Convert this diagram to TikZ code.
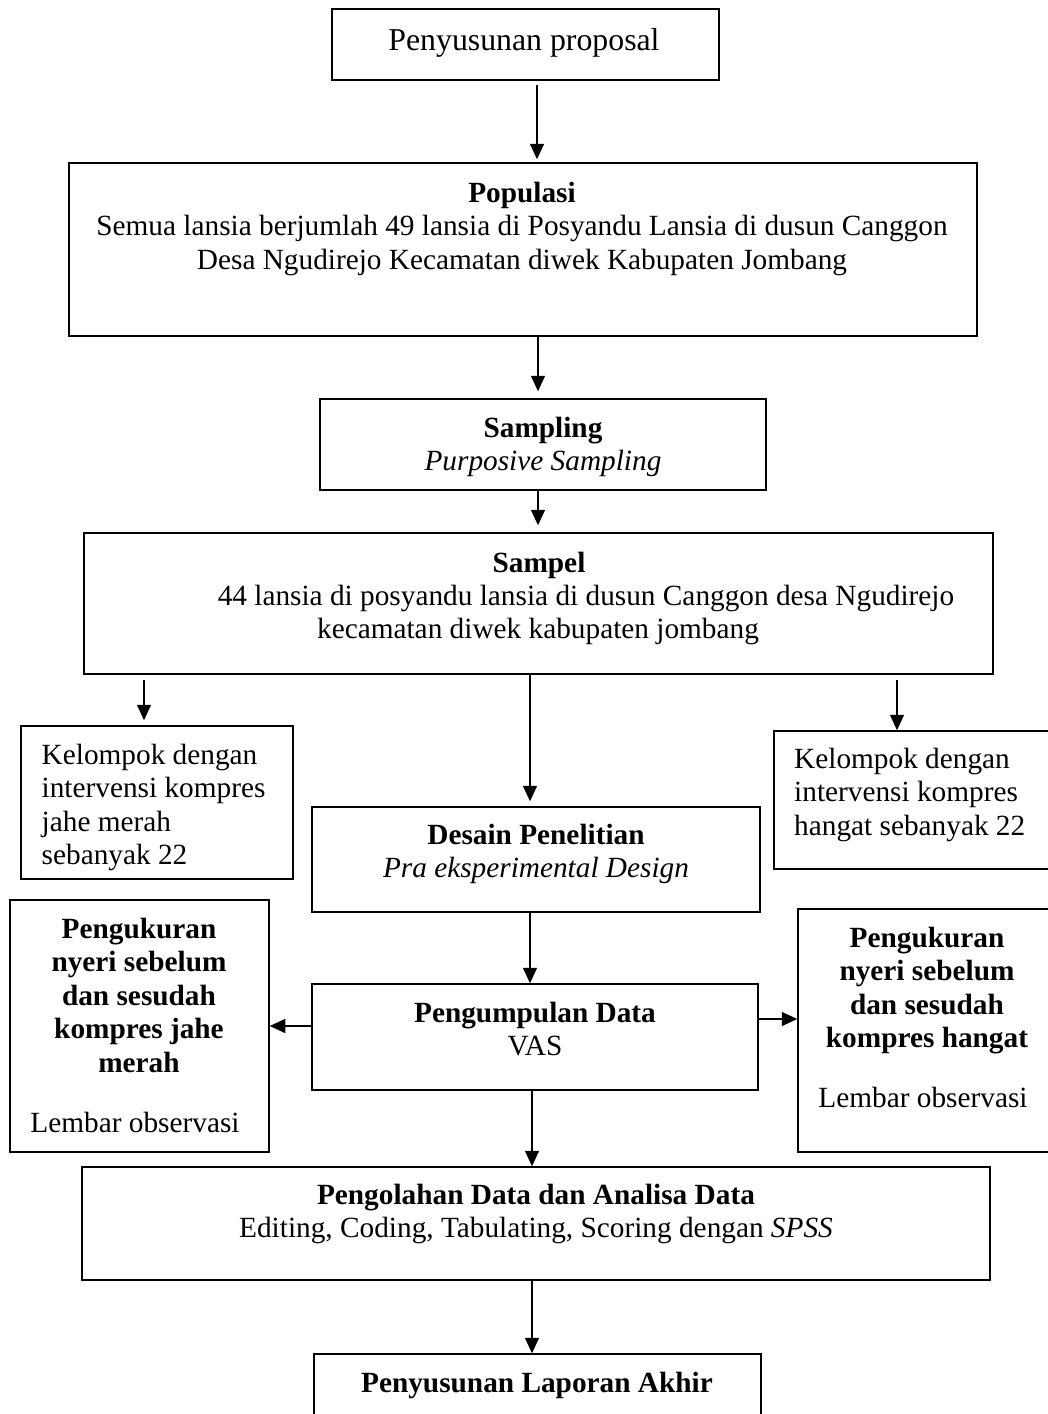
\documentclass[tikz,border=0pt]{standalone}
\usepackage{fontspec}
\setmainfont{Liberation Serif}
\usetikzlibrary{arrows.meta}
\begin{document}
\begin{tikzpicture}[x=1pt,y=-1pt,
  box/.style={draw,line width=1.5pt,inner sep=0pt,rectangle},
  txt/.style={inner sep=0pt,align=center,font=\fontsize{29.3}{33.5}\selectfont},
  arr/.style={line width=1.5pt,-{Triangle[length=15.5pt,width=14pt]}},
  ln/.style={line width=1.5pt}]
\useasboundingbox (0,0) rectangle (1048,1414);
\clip (0,0) rectangle (1048,1414);
% boxes
\node[box,minimum width=387pt,minimum height=71pt] (b1) at (525.3,44.5) {};
\node[box,minimum width=908pt,minimum height=173pt] (pop) at (523,249.5) {};
\node[box,minimum width=446pt,minimum height=91pt] (samp) at (543,444.5) {};
\node[box,minimum width=909pt,minimum height=141pt] (sampel) at (538.5,603.5) {};
\node[box,minimum width=272pt,minimum height=153pt] (kiri) at (157,802.5) {};
\node[box,minimum width=286pt,minimum height=138pt] (kanan) at (917,800) {};
\node[box,minimum width=448pt,minimum height=105pt] (desain) at (536,859.5) {};
\node[box,minimum width=259pt,minimum height=252pt] (ukurL) at (139.5,1026) {};
\node[box,minimum width=262pt,minimum height=243pt] (ukurR) at (929,1030.5) {};
\node[box,minimum width=446pt,minimum height=106pt] (kumpul) at (535,1037) {};
\node[box,minimum width=908pt,minimum height=113pt] (olah) at (536,1223.5) {};
\node[box,minimum width=447pt,minimum height=76pt] (akhir) at (537.5,1392) {};
% texts
\node[txt,anchor=base,font=\fontsize{31.8}{36}\selectfont] (t1) at (524,50) {Penyusunan proposal};
\node[txt,anchor=north] (t2) at (522,178.55) {\strut\textbf{Populasi}\\Semua lansia berjumlah 49 lansia di Posyandu Lansia di dusun Canggon\\Desa Ngudirejo Kecamatan diwek Kabupaten Jombang};
\node[txt,anchor=north] (t3) at (543,413.55) {\strut\textbf{Sampling}\\\textit{Purposive Sampling}};
\node[txt,anchor=base] (t4a) at (539,572) {\textbf{Sampel}};
\node[txt,anchor=base] (t4b) at (586,605) {44 lansia di posyandu lansia di dusun Canggon desa Ngudirejo};
\node[txt,anchor=base] (t4c) at (538,638) {kecamatan diwek kabupaten jombang};
\node[txt,align=left,anchor=north west] (t5) at (41.5,740.55) {\strut Kelompok dengan\\intervensi kompres\\jahe merah\\sebanyak 22};
\node[txt,align=left,anchor=north west] (t6) at (794,744.55) {\strut Kelompok dengan\\intervensi kompres\\hangat sebanyak 22};
\node[txt,anchor=north] (t7) at (536,820.55) {\strut\textbf{Desain Penelitian}\\\textit{Pra eksperimental Design}};
\node[txt,anchor=north] (t8) at (139,914.55) {\strut\textbf{Pengukuran}\\\textbf{nyeri sebelum}\\\textbf{dan sesudah}\\\textbf{kompres jahe}\\\textbf{merah}};
\node[txt,anchor=base] (t8b) at (135,1132) {Lembar observasi};
\node[txt,anchor=north] (t9) at (927,923.55) {\strut\textbf{Pengukuran}\\\textbf{nyeri sebelum}\\\textbf{dan sesudah}\\\textbf{kompres hangat}};
\node[txt,anchor=base] (t9b) at (923,1107) {Lembar observasi};
\node[txt,anchor=north] (t10) at (535,998.55) {\strut\textbf{Pengumpulan Data}\\VAS};
\node[txt,anchor=north] (t11) at (536,1180.55) {\strut\textbf{Pengolahan Data dan Analisa Data}\\Editing, Coding, Tabulating, Scoring dengan \textit{SPSS}};
\node[txt,anchor=base] (t12) at (537,1392) {\textbf{Penyusunan Laporan Akhir}};
% reference coordinates for connector positions
\coordinate (xa) at (537,0);
\coordinate (xb) at (538,0);
\coordinate (xl) at (144,0);
\coordinate (xm) at (530,0);
\coordinate (xr) at (897,0);
\coordinate (xc) at (532,0);
\coordinate (yl) at (0,1026);
\coordinate (yr) at (0,1019);
% connectors
\draw[arr,shorten <=4pt,shorten >=3pt] (b1.south -| xa) -- (pop.north -| xa);
\draw[arr,shorten >=7pt] (pop.south -| xb) -- (samp.north -| xb);
\draw[arr,shorten >=7pt] (samp.south -| xb) -- (sampel.north -| xb);
\draw[arr,shorten <=5pt,shorten >=5pt] (sampel.south -| xl) -- (kiri.north -| xl);
\draw[arr,shorten >=5pt] (sampel.south -| xm) -- (desain.north -| xm);
\draw[arr,shorten <=5pt] (sampel.south -| xr) -- (kanan.north -| xr);
\draw[arr] (desain.south -| xm) -- (kumpul.north -| xm);
\draw[arr] (kumpul.west |- yl) -- (ukurL.east |- yl);
\draw[arr] (kumpul.east |- yr) -- (ukurR.west |- yr);
\draw[arr] (kumpul.south -| xc) -- (olah.north -| xc);
\draw[arr] (olah.south -| xc) -- (akhir.north -| xc);
\end{tikzpicture}
\end{document}
